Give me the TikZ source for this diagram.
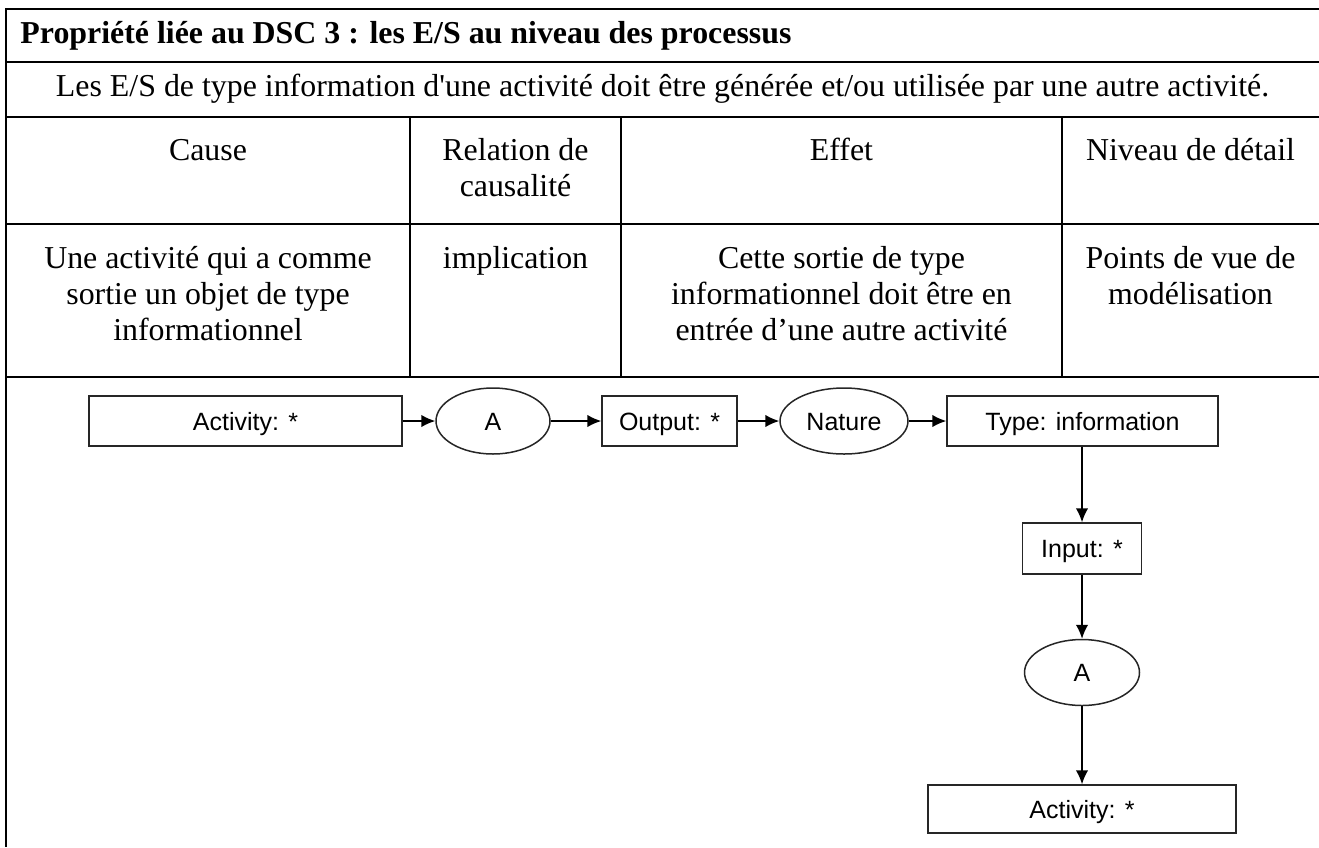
\documentclass[tikz,border=0pt]{standalone}
\usepackage{fontspec}
\setmainfont{Liberation Serif}
\newfontfamily\arialf{Liberation Sans}
\usetikzlibrary{arrows.meta,shapes.geometric}
\begin{document}
\begin{tikzpicture}[x=0.4pt,y=-0.4pt,
  tline/.style={line width=0.8pt},
  cell/.style={font=\fontsize{12.75}{14.4}\selectfont, anchor=base, inner sep=0pt, align=center},
  dfont/.style={font=\arialf\fontsize{10}{12}\selectfont, text height=7.2pt, text depth=0pt},
  dbox/.style={draw=black!85, line width=0.6pt, rectangle, minimum height=20pt, inner sep=0pt, dfont},
  dell/.style={draw=black!85, line width=0.6pt, ellipse, minimum height=26.4pt, inner sep=0pt, dfont},
  arr/.style={line width=0.6pt, -{Latex[length=5.6pt,width=5pt]}}]
\useasboundingbox (0,0) rectangle (1319,847);
% table lines
\foreach \yy in {9,62,117,224,377} \draw[tline] (5.2,\yy) -- (1319,\yy);
\draw[tline] (6,9) -- (6,847);
\foreach \xx in {410,621,1062} \draw[tline] (\xx,117) -- (\xx,377);
% table texts
\node[cell, anchor=base west, font=\fontsize{12.75}{14.4}\selectfont\bfseries] (title) at (20,43) {Propriété liée au DSC 3 : les E/S au niveau des processus};
\node[cell] (prop) at (662.5,96) {Les E/S de type information d\textquotesingle une activité doit être générée et/ou utilisée par une autre activité.};
\node[cell] (hcause) at (208,160) {Cause};
\node[cell] (hrel) at (515.5,196) {Relation de\\causalité};
\node[cell] (heff) at (841.5,160) {Effet};
\node[cell] (hniv) at (1190.5,160) {Niveau de détail};
\node[cell] (ccause) at (208,340) {Une activité qui a comme\\sortie un objet de type\\informationnel};
\node[cell] (crel) at (515.5,268) {implication};
\node[cell] (ceff) at (841.5,340) {Cette sortie de type\\informationnel doit être en\\entrée d’une autre activité};
\node[cell] (cniv) at (1190.5,304) {Points de vue de\\modélisation};
% diagram
\node[dbox, minimum width=125.2pt] (act1) at (245.5,421) {Activity: *};
\node[dell, minimum width=45.6pt] (a1) at (493,421) {A};
\node[dbox, minimum width=54pt] (out) at (669.5,421) {Output: *};
\node[dell, minimum width=51.2pt] (nat) at (844,421) {Nature};
\node[dbox, minimum width=108.4pt] (type) at (1082.5,421) {Type: information};
\node[dbox, minimum width=47.6pt, minimum height=20.4pt] (inp) at (1082,548.5) {Input: *};
\node[dell, minimum width=46pt] (a2) at (1082,672.5) {A};
\node[dbox, minimum width=123.2pt, minimum height=19.2pt] (act2) at (1082,809) {Activity: *};
\draw[arr] (act1) -- (a1);
\draw[arr] (a1) -- (out);
\draw[arr] (out) -- (nat);
\draw[arr] (nat) -- (type);
\draw[arr] (type.south -| inp.north) -- (inp.north);
\draw[arr] (inp) -- (a2);
\draw[arr] (a2) -- (act2);
\end{tikzpicture}
\end{document}
